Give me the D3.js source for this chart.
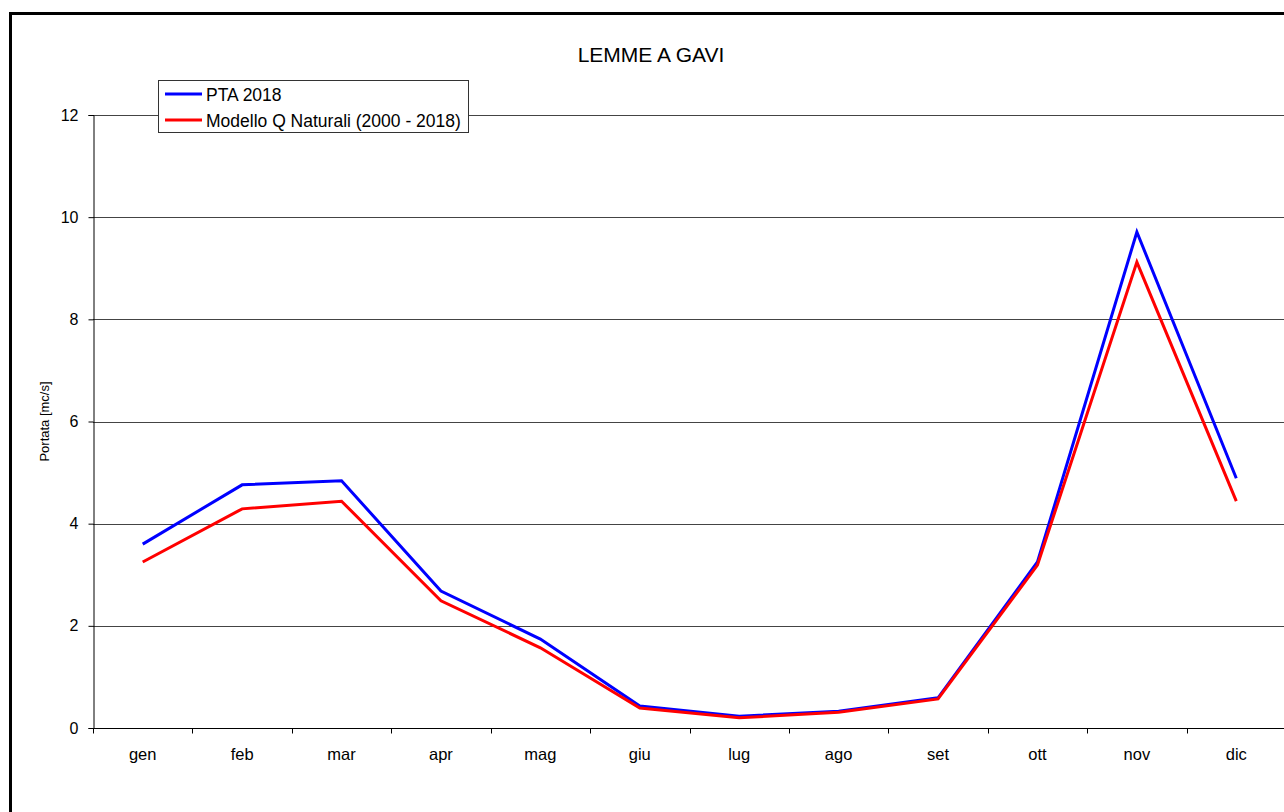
<!DOCTYPE html>
<html>
<head>
<meta charset="utf-8">
<script src="https://cdn.jsdelivr.net/npm/d3@7"></script>
<style>
  html, body { margin: 0; padding: 0; background: #fff; }
  svg { display: block; font-family: "Liberation Sans", Arial, sans-serif; }
</style>
</head>
<body>
<svg id="chart" width="1284" height="812"></svg>
<script>
// Monthly mean discharge, Lemme at Gavi
const months = ["gen", "feb", "mar", "apr", "mag", "giu", "lug", "ago", "set", "ott", "nov", "dic"];
const pta2018 = [3.60, 4.76, 4.84, 2.68, 1.74, 0.43, 0.23, 0.33, 0.59, 3.25, 9.71, 4.89];
const modelloQ = [3.25, 4.29, 4.44, 2.49, 1.57, 0.39, 0.20, 0.31, 0.57, 3.19, 9.12, 4.44];
const yTicks = [0, 2, 4, 6, 8, 10, 12];
const seriesNames = ["PTA 2018", "Modello Q Naturali (2000 - 2018)"];
const seriesColors = ["#0000ff", "#ff0000"];

const svg = d3.select("#chart");
const margin = { left: 93, top: 115, right: 1286, bottom: 728 };

const x = d3.scaleBand().domain(months).range([margin.left, margin.right]);
const y = d3.scaleLinear().domain([0, 12]).range([margin.bottom, margin.top]);

// outer frame
svg.append("rect")
  .attr("x", 10.5).attr("y", 13.5)
  .attr("width", 1300).attr("height", 900)
  .attr("fill", "none").attr("stroke", "#000").attr("stroke-width", 3);

// title
svg.append("text")
  .attr("x", 651).attr("y", 62)
  .attr("text-anchor", "middle")
  .attr("font-size", 21)
  .text("LEMME A GAVI");

// horizontal gridlines
svg.append("g")
  .selectAll("line")
  .data(yTicks.filter(d => d > 0))
  .join("line")
  .attr("x1", margin.left).attr("x2", margin.right)
  .attr("y1", d => Math.round(y(d)) + 0.5).attr("y2", d => Math.round(y(d)) + 0.5)
  .attr("stroke", "#444").attr("stroke-width", 1);

// y axis
const yAxis = svg.append("g")
  .attr("transform", `translate(${margin.left + 0.5},0)`)
  .call(d3.axisLeft(y).tickValues(yTicks).tickSize(5).tickPadding(10).tickFormat(d3.format("d")));
yAxis.select(".domain").attr("stroke", "#000");
yAxis.selectAll(".tick line").attr("stroke", "#000");
yAxis.selectAll("text").attr("font-size", 16).attr("fill", "#000")
  .attr("font-family", "'Liberation Sans', Arial, sans-serif");

// x axis with ticks on band boundaries
const xAxisG = svg.append("g")
  .attr("transform", `translate(0,${Math.round(y(0)) + 0.5})`);
xAxisG.append("line")
  .attr("x1", margin.left).attr("x2", margin.right)
  .attr("stroke", "#000");
xAxisG.selectAll("line.tk")
  .data(months)
  .join("line")
  .attr("class", "tk")
  .attr("x1", d => Math.round(x(d)) + 0.5).attr("x2", d => Math.round(x(d)) + 0.5)
  .attr("y1", 0).attr("y2", 5)
  .attr("stroke", "#000");
xAxisG.selectAll("text")
  .data(months)
  .join("text")
  .attr("x", d => x(d) + x.bandwidth() / 2)
  .attr("y", 31)
  .attr("text-anchor", "middle")
  .attr("font-size", 16.5)
  .text(d => d);

// y axis title
svg.append("text")
  .attr("transform", `translate(49,${(margin.top + margin.bottom) / 2}) rotate(-90)`)
  .attr("text-anchor", "middle")
  .attr("font-size", 13)
  .text("Portata [mc/s]");

// series lines
const line = d3.line()
  .x((d, i) => x(months[i]) + x.bandwidth() / 2)
  .y(d => y(d));

[pta2018, modelloQ].forEach((vals, k) => {
  svg.append("path")
    .datum(vals)
    .attr("d", line)
    .attr("fill", "none")
    .attr("stroke", seriesColors[k])
    .attr("stroke-width", 3)
    .attr("stroke-linejoin", "miter");
});

// legend
const lg = svg.append("g");
lg.append("rect")
  .attr("x", 158.5).attr("y", 80.5)
  .attr("width", 310).attr("height", 52)
  .attr("fill", "#fff").attr("stroke", "#333").attr("stroke-width", 1);
seriesNames.forEach((name, k) => {
  const yy = 94 + k * 26;
  lg.append("line")
    .attr("x1", 165).attr("x2", 202)
    .attr("y1", yy).attr("y2", yy)
    .attr("stroke", seriesColors[k]).attr("stroke-width", 3);
  lg.append("text")
    .attr("x", 206).attr("y", yy + 7)
    .attr("font-size", 17.5)
    .text(name);
});
</script>
</body>
</html>
